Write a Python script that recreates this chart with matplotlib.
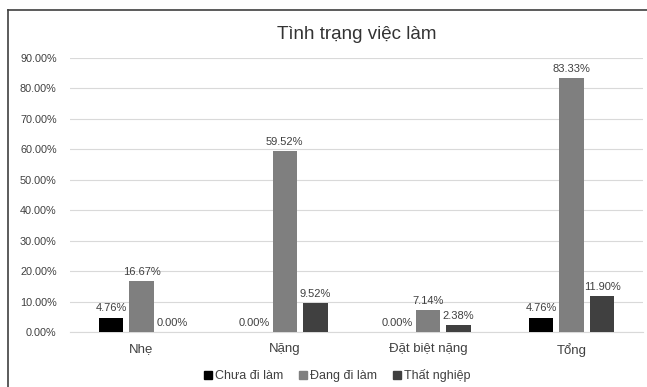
import numpy as np
import matplotlib.pyplot as plt
from matplotlib.lines import Line2D
from matplotlib.ticker import FuncFormatter

plt.rcParams['font.family'] = ['Liberation Sans', 'DejaVu Sans']

categories = ['Nhẹ', 'Nặng', 'Đặt biệt nặng', 'Tổng']
series_names = ['Chưa đi làm', 'Đang đi làm', 'Thất nghiệp']
chua_di_lam = [4.76, 0.00, 0.00, 4.76]
dang_di_lam = [16.67, 59.52, 7.14, 83.33]
that_nghiep = [0.00, 9.52, 2.38, 11.90]
colors = ['#000000', '#7f7f7f', '#404040']

fig = plt.figure(figsize=(6.47, 3.87), dpi=100)
ax = fig.add_axes([0.108, 0.142, 0.886, 0.708])

x = np.arange(len(categories))
width = 0.172
step = 0.213
for i, (vals, name, c) in enumerate(zip([chua_di_lam, dang_di_lam, that_nghiep], series_names, colors)):
    pos = x + (i - 1) * step
    bars = ax.bar(pos, vals, width, color=c, label=name, zorder=3)
    for b, v in zip(bars, vals):
        ax.annotate(f'{v:.2f}%', (b.get_x() + b.get_width() / 2, v),
                    xytext=(0, 3), textcoords='offset points',
                    ha='center', va='bottom', fontsize=8, color='#404040')

ax.set_xlim(-0.5, len(categories) - 0.5)
ax.set_ylim(0, 90)
ax.set_yticks(np.arange(0, 91, 10))
ax.yaxis.set_major_formatter(FuncFormatter(lambda v, _: f'{v:.2f}%'))
ax.set_xticks(x)
ax.set_xticklabels(categories, fontsize=9.5, color='#404040')
ax.tick_params(axis='y', labelsize=7.8, labelcolor='#404040', length=0, pad=9.5)
ax.tick_params(axis='x', length=0, pad=8)
ax.grid(axis='y', color='#d9d9d9', linewidth=0.8, zorder=0)
for side in ['top', 'right', 'left']:
    ax.spines[side].set_visible(False)
ax.spines['bottom'].set_color('#d9d9d9')

fig.text(0.552, 0.912, 'Tình trạng việc làm', ha='center', va='center',
         fontsize=13.5, color='#333333')

handles = [Line2D([], [], marker='s', linestyle='', color=c, markersize=6) for c in colors]
fig.legend(handles, series_names, loc='center', bbox_to_anchor=(0.52, 0.03),
           ncol=3, frameon=False, fontsize=9, handletextpad=0.15,
           columnspacing=1.2, handlelength=0.8, labelcolor='#404040')

# outer chart frame
fig.add_artist(Line2D([0.013, 0.013], [0.0, 0.974], color='#404040', linewidth=1.2))
fig.add_artist(Line2D([0.013, 1.0], [0.974, 0.974], color='#404040', linewidth=1.2))

fig.savefig('out.png', dpi=100)
